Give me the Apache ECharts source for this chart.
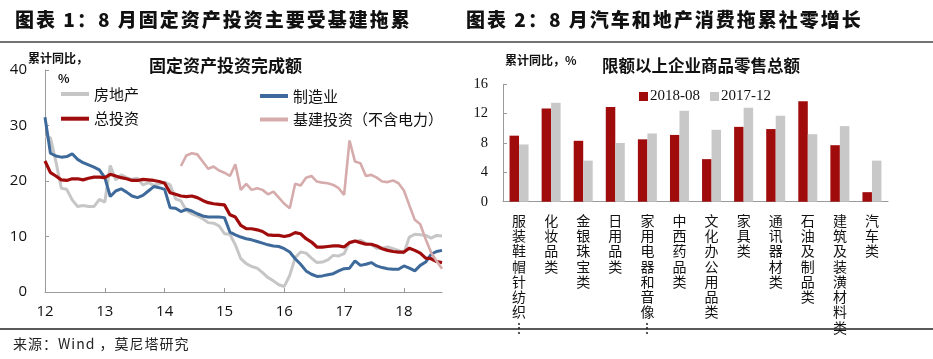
<!DOCTYPE html>
<html>
<head>
<meta charset="utf-8">
<script src="https://cdn.jsdelivr.net/npm/echarts@6/dist/echarts.min.js"></script>
<style>
  html, body { margin: 0; padding: 0; background: #fff; }
  #c { position: absolute; left: 0; top: 0; width: 933px; height: 359px; }
  .ttl { position: absolute; top: 8px; font-family: "Noto Sans CJK SC", sans-serif; font-weight: 900;
         font-size: 19px; line-height: 21px; letter-spacing: 2px; white-space: nowrap; color: #111; }
  .src { position: absolute; left: 13px; top: 334px; font-family: "Noto Sans CJK SC", sans-serif;
         font-size: 14px; line-height: 18px; letter-spacing: 1px; white-space: nowrap; color: #222; }
</style>
</head>
<body>
<div id="c"></div>
<div class="ttl" style="left:15px">图表 1：8 月固定资产投资主要受基建拖累</div>
<div class="ttl" style="left:466px">图表 2：8 月汽车和地产消费拖累社零增长</div>
<div class="src">来源：Wind ，莫尼塔研究</div>
<script>
// ---------- Left chart: cumulative YoY of fixed-asset investment (%) ----------
const months = [
  '2011-12',
  '2012-02','2012-03','2012-04','2012-05','2012-06','2012-07','2012-08','2012-09','2012-10','2012-11','2012-12',
  '2013-02','2013-03','2013-04','2013-05','2013-06','2013-07','2013-08','2013-09','2013-10','2013-11','2013-12',
  '2014-02','2014-03','2014-04','2014-05','2014-06','2014-07','2014-08','2014-09','2014-10','2014-11','2014-12',
  '2015-02','2015-03','2015-04','2015-05','2015-06','2015-07','2015-08','2015-09','2015-10','2015-11','2015-12',
  '2016-02','2016-03','2016-04','2016-05','2016-06','2016-07','2016-08','2016-09','2016-10','2016-11','2016-12',
  '2017-02','2017-03','2017-04','2017-05','2017-06','2017-07','2017-08','2017-09','2017-10','2017-11','2017-12',
  '2018-02','2018-03','2018-04','2018-05','2018-06','2018-07','2018-08'
];
const yearTickLabels = ['12','13','14','15','16','17','18'];

const realEstate = [27.9,
  27.8,23.5,18.7,18.5,16.6,15.4,15.6,15.4,15.4,16.7,16.2,
  22.8,20.2,21.1,20.6,20.3,20.5,19.3,19.7,19.2,19.5,19.8,
  19.3,16.8,16.4,14.7,14.1,13.7,13.2,12.5,12.4,11.9,10.5,
  10.4,8.5,6.0,5.1,4.6,4.3,3.5,2.6,2.0,1.3,1.0,
  3.0,6.2,7.2,7.0,6.1,5.3,5.4,5.8,6.6,6.5,6.9,
  8.9,9.1,9.3,8.8,8.5,7.9,7.9,8.1,7.8,7.5,7.0,
  9.9,10.4,10.3,10.2,9.7,10.2,10.1];

const manufacturing = [31.5,
  25.0,24.5,24.3,24.4,24.9,23.9,23.3,22.9,22.5,22.0,20.6,
  17.2,18.2,18.6,18.0,17.3,17.0,17.4,18.2,19.0,18.8,18.5,
  15.2,15.1,14.5,14.9,14.6,14.1,13.7,13.5,13.5,13.5,13.4,
  10.8,10.3,9.9,9.6,9.4,9.1,8.8,8.5,8.3,8.2,7.8,
  7.2,6.0,5.0,3.8,3.2,2.8,2.9,3.1,3.3,3.8,4.2,
  4.3,5.6,4.8,5.0,5.3,4.7,4.4,4.2,4.1,4.1,4.7,
  4.3,3.8,4.8,5.4,6.8,7.3,7.5];

const totalInvestment = [23.6,
  21.5,20.9,20.2,20.1,20.4,20.4,20.2,20.5,20.7,20.7,20.6,
  21.2,20.9,20.6,20.4,20.1,20.1,20.3,20.2,20.1,19.9,19.6,
  17.9,17.6,17.3,17.2,17.3,17.0,16.5,16.1,15.9,15.8,15.7,
  13.9,13.5,12.0,11.4,11.4,11.2,10.9,10.3,10.2,10.2,10.0,
  10.2,10.7,10.5,9.6,9.0,8.1,8.1,8.2,8.3,8.3,8.1,
  8.9,9.2,8.9,8.6,8.6,8.3,7.8,7.5,7.3,7.2,7.2,
  7.9,7.5,7.0,6.1,6.0,5.5,5.3];

const infrastructure = [null,
  null,null,null,null,null,null,null,null,null,null,null,
  null,null,null,null,null,null,null,null,null,null,null,
  null,null,22.7,24.6,25.0,24.8,23.5,22.2,22.6,21.9,21.5,
  20.9,23.0,18.4,19.5,18.4,18.7,18.4,17.6,18.1,17.0,15.9,
  15.1,19.5,19.2,20.6,20.9,19.9,19.7,19.6,19.3,18.7,17.5,
  27.3,23.5,23.2,20.9,21.1,20.6,19.9,19.8,20.1,19.6,18.3,
  15.6,13.0,12.2,9.5,7.1,5.6,4.2];

// ---------- Right chart: retail sales above designated size (%) ----------
const retailCategories = ['服装鞋帽针纺织品类','化妆品类','金银珠宝类','日用品类','家用电器和音像器材类',
  '中西药品类','文化办公用品类','家具类','通讯器材类','石油及制品类','建筑及装潢材料类','汽车类'];
const retail201808 = [9.0, 12.7, 8.3, 12.9, 8.5, 9.1, 5.8, 10.2, 9.9, 13.7, 7.7, 1.3];
const retail201712 = [7.8, 13.5, 5.6, 8.0, 9.3, 12.4, 9.8, 12.8, 11.7, 9.2, 10.3, 5.6];

const CJK = '"Noto Sans CJK SC", sans-serif';
const SANS = '"Open Sans", "Noto Sans", sans-serif';
const SERIF = '"Liberation Serif", "DejaVu Serif", serif';
const axisGrey = '#9a9a9a';

const chart = echarts.init(document.getElementById('c'), null, { renderer: 'canvas' });

function verticalLabel(v) {
  let chars = Array.from(v);
  if (chars.length > 8) chars = chars.slice(0, 7).concat(['⋮']);
  return chars.join('\n');
}

const option = {
  animation: false,
  backgroundColor: '#fff',
  grid: [
    { left: 45, top: 70, width: 397, height: 222 },
    { left: 503, top: 84.3, width: 385, height: 117.4 }
  ],
  xAxis: [
    {
      type: 'category', gridIndex: 0, data: months, boundaryGap: false,
      axisLine: { lineStyle: { color: axisGrey, width: 1 } },
      axisTick: { inside: true, length: 4, interval: 10, lineStyle: { color: axisGrey } },
      axisLabel: {
        interval: 10, margin: 12, fontSize: 15, fontFamily: SANS, color: '#111',
        formatter: function (v, i) { return yearTickLabels[Math.round(i / 11)]; }
      },
      splitLine: { show: false }
    },
    {
      type: 'category', gridIndex: 1, data: retailCategories,
      axisLine: { lineStyle: { color: axisGrey, width: 1 } },
      axisTick: { inside: true, length: 4, alignWithLabel: false, lineStyle: { color: axisGrey } },
      axisLabel: {
        interval: 0, margin: 11, fontSize: 14, lineHeight: 15.3, fontFamily: CJK, color: '#111',
        verticalAlign: 'top', formatter: verticalLabel
      }
    }
  ],
  yAxis: [
    {
      type: 'value', gridIndex: 0, min: 0, max: 40, interval: 10,
      axisLine: { show: true, lineStyle: { color: axisGrey, width: 1 } },
      axisTick: { show: true, inside: true, length: 4, lineStyle: { color: axisGrey } },
      axisLabel: { margin: 18, fontSize: 15, fontFamily: SANS, color: '#111' },
      splitLine: { show: false }
    },
    {
      type: 'value', gridIndex: 1, min: 0, max: 16, interval: 4,
      axisLine: { show: true, lineStyle: { color: axisGrey, width: 1 } },
      axisTick: { show: true, inside: true, length: 4, lineStyle: { color: axisGrey } },
      axisLabel: { margin: 15, fontSize: 14.5, fontFamily: SERIF, color: '#111' },
      splitLine: { show: false }
    }
  ],
  legend: [
    {
      data: ['房地产', '总投资'], orient: 'vertical', left: 56, top: 81,
      icon: 'rect', itemWidth: 28, itemHeight: 4, itemGap: 8.7,
      textStyle: { fontSize: 15, lineHeight: 16, fontFamily: CJK, color: '#111' },
      selectedMode: false
    },
    {
      data: ['制造业', '基建投资（不含电力）'], orient: 'vertical', left: 255, top: 83,
      icon: 'rect', itemWidth: 28, itemHeight: 4, itemGap: 7.5,
      textStyle: { fontSize: 15, lineHeight: 16, fontFamily: CJK, color: '#111' },
      selectedMode: false
    },
    {
      data: ['2018-08', '2017-12'], orient: 'horizontal', left: 634, top: 84,
      icon: 'rect', itemWidth: 9, itemHeight: 9, itemGap: 10,
      textStyle: { fontSize: 15, fontFamily: SERIF, color: '#111', padding: [0, 0, 0, -3] },
      selectedMode: false
    }
  ],
  series: [
    { name: '房地产', type: 'line', xAxisIndex: 0, yAxisIndex: 0, data: realEstate,
      symbol: 'none', lineStyle: { color: '#c6c6c6', width: 3 }, itemStyle: { color: '#c6c6c6' } },
    { name: '制造业', type: 'line', xAxisIndex: 0, yAxisIndex: 0, data: manufacturing,
      symbol: 'none', lineStyle: { color: '#3d6a9b', width: 3 }, itemStyle: { color: '#3d6a9b' } },
    { name: '总投资', type: 'line', xAxisIndex: 0, yAxisIndex: 0, data: totalInvestment,
      symbol: 'none', lineStyle: { color: '#a00c0c', width: 3.2 }, itemStyle: { color: '#a00c0c' } },
    { name: '基建投资（不含电力）', type: 'line', xAxisIndex: 0, yAxisIndex: 0, data: infrastructure,
      symbol: 'none', connectNulls: false, lineStyle: { color: '#d6abab', width: 2.6 }, itemStyle: { color: '#d6abab' } },
    { name: '2018-08', type: 'bar', xAxisIndex: 1, yAxisIndex: 1, data: retail201808,
      barWidth: 9.5, barGap: '0%', itemStyle: { color: '#a00c0c' } },
    { name: '2017-12', type: 'bar', xAxisIndex: 1, yAxisIndex: 1, data: retail201712,
      barWidth: 9.5, barGap: '0%', itemStyle: { color: '#c8c8c8' } }
  ],
  graphic: [
    { type: 'line', shape: { x1: 0, y1: 42, x2: 933, y2: 42 }, style: { stroke: '#444', lineWidth: 1.5 }, silent: true },
    { type: 'line', shape: { x1: 0, y1: 329, x2: 933, y2: 329 }, style: { stroke: '#222', lineWidth: 1.5 }, silent: true },
    { type: 'text', left: 28, top: 52, style: { text: '累计同比，', font: 'bold 12px "Noto Sans CJK SC"', fill: '#111' } },
    { type: 'text', left: 58, top: 72, style: { text: '%', font: 'bold 12px "Noto Sans CJK SC"', fill: '#111' } },
    { type: 'text', left: 149, top: 57, style: { text: '固定资产投资完成额', font: 'bold 17px "Noto Sans CJK SC"', fill: '#111' } },
    { type: 'text', left: 505, top: 54, style: { text: '累计同比，%', font: 'bold 12px "Noto Sans CJK SC"', fill: '#111' } },
    { type: 'text', left: 602, top: 57, style: { text: '限额以上企业商品零售总额', font: 'bold 16.5px "Noto Sans CJK SC"', fill: '#111' } }
  ]
};
chart.setOption(option);
</script>
</body>
</html>
